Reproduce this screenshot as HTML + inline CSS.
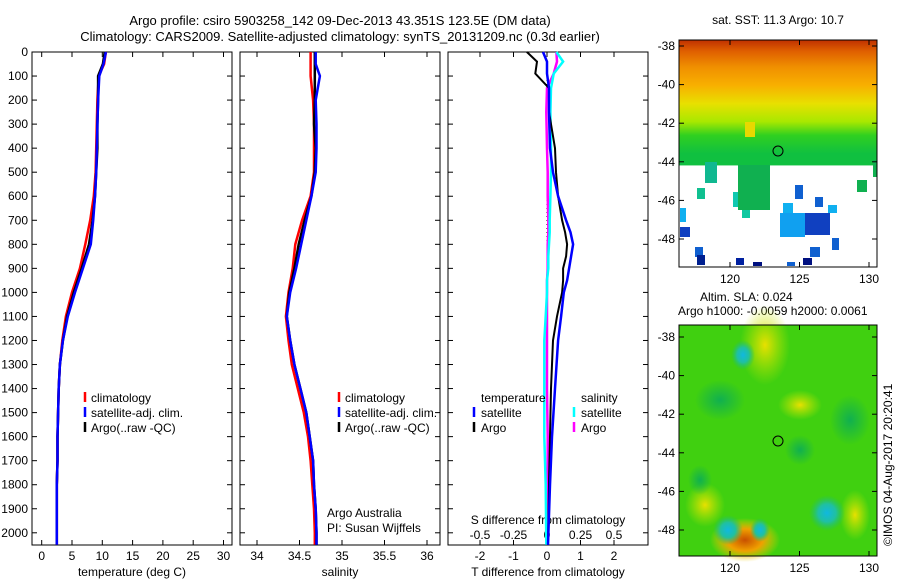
<!DOCTYPE html>
<html><head><meta charset="utf-8">
<style>
html,body{margin:0;padding:0;background:#fff;}
svg{display:block;font-family:"Liberation Sans",sans-serif;}
text{font-size:12px;fill:#000;}
</style></head>
<body>
<svg id="s" width="900" height="580" viewBox="0 0 900 580" xmlns="http://www.w3.org/2000/svg">
<defs>
<linearGradient id="sstg" x1="0" y1="0" x2="0" y2="1">
<stop offset="0" stop-color="#c03000"/><stop offset="0.05" stop-color="#e06000"/>
<stop offset="0.12" stop-color="#f09000"/><stop offset="0.2" stop-color="#f8b000"/>
<stop offset="0.28" stop-color="#e8e000"/><stop offset="0.36" stop-color="#a8e800"/>
<stop offset="0.42" stop-color="#30d020"/><stop offset="0.5" stop-color="#10c040"/>
<stop offset="0.55" stop-color="#10c040"/><stop offset="0.555" stop-color="#fff"/><stop offset="1" stop-color="#fff"/>
</linearGradient>
<radialGradient id="rOr"><stop offset="0" stop-color="#c85000"/><stop offset="0.5" stop-color="#f0a000"/><stop offset="1" stop-color="#f0d000" stop-opacity="0"/></radialGradient>
<radialGradient id="rY"><stop offset="0" stop-color="#e8e000"/><stop offset="1" stop-color="#c0e800" stop-opacity="0"/></radialGradient>
<radialGradient id="rC"><stop offset="0" stop-color="#10b8e0"/><stop offset="0.5" stop-color="#20c0a0"/><stop offset="1" stop-color="#20c060" stop-opacity="0"/></radialGradient>
<radialGradient id="rD"><stop offset="0" stop-color="#10b050"/><stop offset="1" stop-color="#10b050" stop-opacity="0"/></radialGradient>
</defs>
<g id="titles">
<text x="340" y="25" text-anchor="middle" style="font-size:13px">Argo profile: csiro 5903258_142 09-Dec-2013 43.351S 123.5E (DM data)</text>
<text x="340" y="41" text-anchor="middle" style="font-size:13px">Climatology: CARS2009. Satellite-adjusted climatology: synTS_20131209.nc (0.3d earlier)</text>
</g>
<g id="g"></g>
</svg>
<script>
const depth = [0,50,100,200,300,400,500,600,700,800,900,1000,1100,1200,1300,1400,1500,1600,1700,1800,1900,2000,2050];
const tempClim = [10.6,10.3,9.4,9.2,9.1,9.0,8.9,8.6,8.0,7.2,6.3,5.0,4.0,3.4,3.0,2.8,2.7,2.6,2.6,2.5,2.5,2.5,2.5];
const tempSat  = [10.6,10.2,9.5,9.3,9.2,9.1,9.0,8.8,8.5,8.1,6.8,5.5,4.3,3.5,3.0,2.8,2.7,2.6,2.6,2.5,2.5,2.5,2.5];
const tempArgo = [10.4,10.1,9.3,9.3,9.2,9.2,9.0,8.8,8.4,7.8,6.6,5.3,4.2,3.5,3.0,2.8,2.7,2.6,2.6,2.5,2.5,2.5,2.5];
const salClim  = [34.63,34.63,34.63,34.66,34.67,34.67,34.67,34.63,34.53,34.45,34.42,34.37,34.34,34.37,34.41,34.48,34.55,34.60,34.63,34.65,34.67,34.68,34.68];
const salSat   = [34.69,34.69,34.74,34.69,34.70,34.70,34.69,34.64,34.58,34.52,34.46,34.39,34.35,34.39,34.44,34.51,34.58,34.62,34.66,34.67,34.69,34.70,34.70];
const salArgo  = [34.68,34.68,34.68,34.68,34.67,34.69,34.68,34.64,34.56,34.49,34.44,34.38,34.35,34.39,34.44,34.51,34.58,34.62,34.66,34.67,34.69,34.70,34.70];
const dDepth   = [0,40,90,150,250,400,500,600,700,750,800,850,900,950,1000,1100,1200,1400,1600,1800,2050];
const dTSat    = [-0.12,0.0,0.0,0.06,0.06,0.09,0.18,0.33,0.57,0.70,0.78,0.72,0.66,0.60,0.50,0.42,0.33,0.24,0.15,0.09,0.03];
const dTArgo   = [-0.6,-0.3,-0.35,0.06,0.06,0.24,0.27,0.33,0.45,0.54,0.60,0.57,0.48,0.48,0.45,0.30,0.18,0.12,0.09,0.06,0.03];
const dSSat    = [0.07,0.12,0.05,0.03,0.025,0.03,0.03,0.025,0.02,0.02,0.015,0.01,0.01,0.0,0.0,-0.01,-0.02,-0.02,-0.02,-0.01,-0.005];
const dSArgo   = [0.07,0.075,0.05,0.0,-0.005,0.0,0.005,0.005,0.01,0.01,0.005,0.005,0.005,0.0,0.0,0.0,0.0,0.0,0.005,0.005,0.005];
const depthTicks = [0,100,200,300,400,500,600,700,800,900,1000,1100,1200,1300,1400,1500,1600,1700,1800,1900,2000];
const tTicks = [0,5,10,15,20,25,30];
const sTicks = [34,34.5,35,35.5,36];
const dtTicks = [-2,-1,0,1,2];
const dsTicks = [-0.5,-0.25,0,0.25,0.5];
const dsTickLabels = ["-0.5","-0.25","0","0.25","0.5"];
const lonTicks = [120,125,130];
const latTicks = [-38,-40,-42,-44,-46,-48];

const NS="http://www.w3.org/2000/svg", G=document.getElementById('g');
function el(t,a,p){const e=document.createElementNS(NS,t);for(const k in a)e.setAttribute(k,a[k]);(p||G).appendChild(e);return e;}
const yTop=52,yBot=545;
const yD=d=>yTop+d*0.2404;
function panel(x0,name){const g=el('g',{});
 el('rect',{x:x0,y:yTop,width:200,height:yBot-yTop,fill:'none',stroke:'#000','stroke-width':1},g);return g;}
function xticks(g,ticks,fx,labels,ly){ticks.forEach((t,i)=>{const x=fx(t);
 el('line',{x1:x,x2:x,y1:yTop,y2:yTop+5,stroke:'#000'},g);el('line',{x1:x,x2:x,y1:yBot,y2:yBot-5,stroke:'#000'},g);
 if(ly){const tx=el('text',{x:x,y:ly,'text-anchor':'middle'},g);tx.textContent=labels?labels[i]:t;}});}
function line(g,xs,ds,fx,col,w,name){const pts=xs.map((v,i)=>fx(v).toFixed(1)+','+yD(ds[i]).toFixed(1)).join(' ');
 const p=el('polyline',{points:pts,fill:'none',stroke:col,'stroke-width':w},g);}
function txt(g,x,y,s,a){const t=el('text',Object.assign({x:x,y:y},a||{}),g);t.textContent=s;return t;}
function leg(g,x,y,col){el('line',{x1:x,x2:x,y1:y-10,y2:y,stroke:col,'stroke-width':2.5},g);}

// panel 1
const fT=v=>32+(v+1.6)*6.06;
const p1=panel(32,'temperature-panel');
xticks(p1,tTicks,fT,null,560);
depthTicks.forEach(d=>{const y=yD(d);el('line',{x1:32,x2:37,y1:y,y2:y,stroke:'#000'},p1);el('line',{x1:232,x2:227,y1:y,y2:y,stroke:'#000'},p1);
 txt(p1,28,y+4,String(d),{'text-anchor':'end'});});
txt(p1,132,576,'temperature (deg C)',{'text-anchor':'middle'});
line(p1,tempClim,depth,fT,'#f00',2.5,'temp-climatology-line');
line(p1,tempArgo,depth,fT,'#000',2.5,'temp-argo-line');
line(p1,tempSat,depth,fT,'#00f',2.5,'temp-satellite-line');
leg(p1,85,402,'#f00');txt(p1,91,402,'climatology');
leg(p1,85,417,'#00f');txt(p1,91,417,'satellite-adj. clim.');
leg(p1,85,432,'#000');txt(p1,91,432,'Argo(..raw -QC)');

// panel 2
const fS=v=>240+(v-33.8)*85;
const p2=panel(240,'salinity-panel');
xticks(p2,sTicks,fS,null,560);
depthTicks.forEach(d=>{const y=yD(d);el('line',{x1:240,x2:245,y1:y,y2:y,stroke:'#000'},p2);el('line',{x1:440,x2:435,y1:y,y2:y,stroke:'#000'},p2);});
txt(p2,340,576,'salinity',{'text-anchor':'middle'});
line(p2,salClim,depth,fS,'#f00',2.5,'sal-climatology-line');
line(p2,salArgo,depth,fS,'#000',2.5,'sal-argo-line');
line(p2,salSat,depth,fS,'#00f',2.5,'sal-satellite-line');
leg(p2,339,402,'#f00');txt(p2,345,402,'climatology');
leg(p2,339,417,'#00f');txt(p2,345,417,'satellite-adj. clim.');
leg(p2,339,432,'#000');txt(p2,345,432,'Argo(..raw -QC)');
txt(p2,327,517,'Argo Australia');txt(p2,327,532,'PI: Susan Wijffels');

// panel 3
const fdT=v=>547+v*33.5, fdS=v=>547+v*134;
const p3=panel(448,'difference-panel');
xticks(p3,dtTicks,fdT,null,560);
dsTicks.forEach((t,i)=>txt(p3,fdS(t),539,dsTickLabels[i],{'text-anchor':'middle'}));
depthTicks.forEach(d=>{const y=yD(d);el('line',{x1:448,x2:453,y1:y,y2:y,stroke:'#000'},p3);el('line',{x1:648,x2:643,y1:y,y2:y,stroke:'#000'},p3);});
el('line',{x1:547,x2:547,y1:yTop,y2:yBot,stroke:'#000','stroke-dasharray':'1,3'},p3);
txt(p3,548,524,'S difference from climatology',{'text-anchor':'middle'});
txt(p3,548,576,'T difference from climatology',{'text-anchor':'middle'});
line(p3,dSArgo,dDepth,fdS,'#f0f',2.5,'sal-diff-argo-line');
line(p3,dSSat,dDepth,fdS,'#0ff',2.5,'sal-diff-satellite-line');
line(p3,dTArgo,dDepth,fdT,'#000',2,'temp-diff-argo-line');
line(p3,dTSat,dDepth,fdT,'#00f',2.5,'temp-diff-satellite-line');
txt(p3,481,402,'temperature');leg(p3,474,417,'#00f');txt(p3,481,417,'satellite');leg(p3,474,432,'#000');txt(p3,481,432,'Argo');
txt(p3,581,402,'salinity');leg(p3,574,417,'#0ff');txt(p3,581,417,'satellite');leg(p3,574,432,'#f0f');txt(p3,581,432,'Argo');

// maps
function map(name){const g=el('g',{});return g;}
const fLon=v=>730+(v-120)*13.9;
function frame(g,y0,h,latY){
 el('rect',{x:679,y:y0,width:198,height:h,fill:'none',stroke:'#000'},g);
 lonTicks.forEach(l=>{const x=fLon(l);el('line',{x1:x,x2:x,y1:y0,y2:y0+5,stroke:'#000'},g);el('line',{x1:x,x2:x,y1:y0+h,y2:y0+h-5,stroke:'#000'},g);
  txt(g,x,y0+h+16,String(l),{'text-anchor':'middle'});});
 latTicks.forEach(l=>{const y=latY(l);el('line',{x1:679,x2:684,y1:y,y2:y,stroke:'#000'},g);el('line',{x1:877,x2:872,y1:y,y2:y,stroke:'#000'},g);
  txt(g,675,y+4,String(l),{'text-anchor':'end'});});
}
const m1=map('sst-map');
const lat1=v=>46+(-38-v)*19.3;
el('rect',{x:679,y:40,width:198,height:227,fill:'url(#sstg)'},m1);
[[745,122,10,15,'#e8d800'],[705,162,12,21,'#10b890'],[697,188,8,11,'#10c090'],[733,192,10,15,'#10c8b0'],[742,208,8,10,'#10c8a0'],
 [738,165,32,45,'#10b050'],[795,185,8,14,'#1060d0'],[783,203,10,12,'#10b0f0'],[780,213,25,24,'#10a0f0'],[805,213,25,22,'#1040c0'],
 [815,197,8,10,'#1060d0'],[828,205,9,8,'#10b0f0'],[857,180,10,12,'#10b050'],[873,160,4,17,'#10b050'],
 [680,208,6,14,'#10b0f0'],[680,227,10,10,'#1040c0'],[695,247,8,10,'#1060d0'],[697,255,8,10,'#002090'],
 [736,258,8,7,'#0020a0'],[753,262,9,4,'#001080'],[787,262,8,4,'#1060d0'],[803,258,9,7,'#001080'],[810,247,10,10,'#1060d0'],[832,238,7,12,'#1060d0']
].forEach(r=>el('rect',{x:r[0],y:r[1],width:r[2],height:r[3],fill:r[4]},m1));
el('circle',{cx:778,cy:151,r:5,fill:'none',stroke:'#000'},m1);
frame(m1,40,227,lat1);
txt(m1,778,24,'sat. SST: 11.3 Argo: 10.7',{'text-anchor':'middle'});
txt(m1,700,301,'Altim. SLA: 0.024');txt(m1,678,315,'Argo h1000: -0.0059 h2000: 0.0061');

const m2=map('sla-map');
const lat2=v=>337+(-38-v)*19.3;
el('rect',{x:679,y:325,width:198,height:231,fill:'#40d010'},m2);
[[765,345,25,40,'url(#rY)'],[745,540,35,22,'url(#rOr)'],[800,405,22,15,'url(#rY)'],[705,505,20,22,'url(#rY)'],[855,515,15,25,'url(#rY)'],[743,355,12,15,'url(#rC)'],[728,530,15,15,'url(#rC)'],[827,513,18,18,'url(#rC)'],[760,530,10,12,'url(#rC)'],[720,400,25,20,'url(#rD)'],[800,450,15,15,'url(#rD)'],[850,420,20,25,'url(#rD)'],[700,480,12,15,'url(#rD)']].forEach(r=>el('ellipse',{cx:r[0],cy:r[1],rx:r[2],ry:r[3],fill:r[4]},m2));
el('circle',{cx:778,cy:441,r:5,fill:'none',stroke:'#000'},m2);
frame(m2,325,231,lat2);
const c=txt(m2,0,0,'©IMOS 04-Aug-2017 20:20:41',{transform:'translate(892,546) rotate(-90)'});


</script>
</body></html>
